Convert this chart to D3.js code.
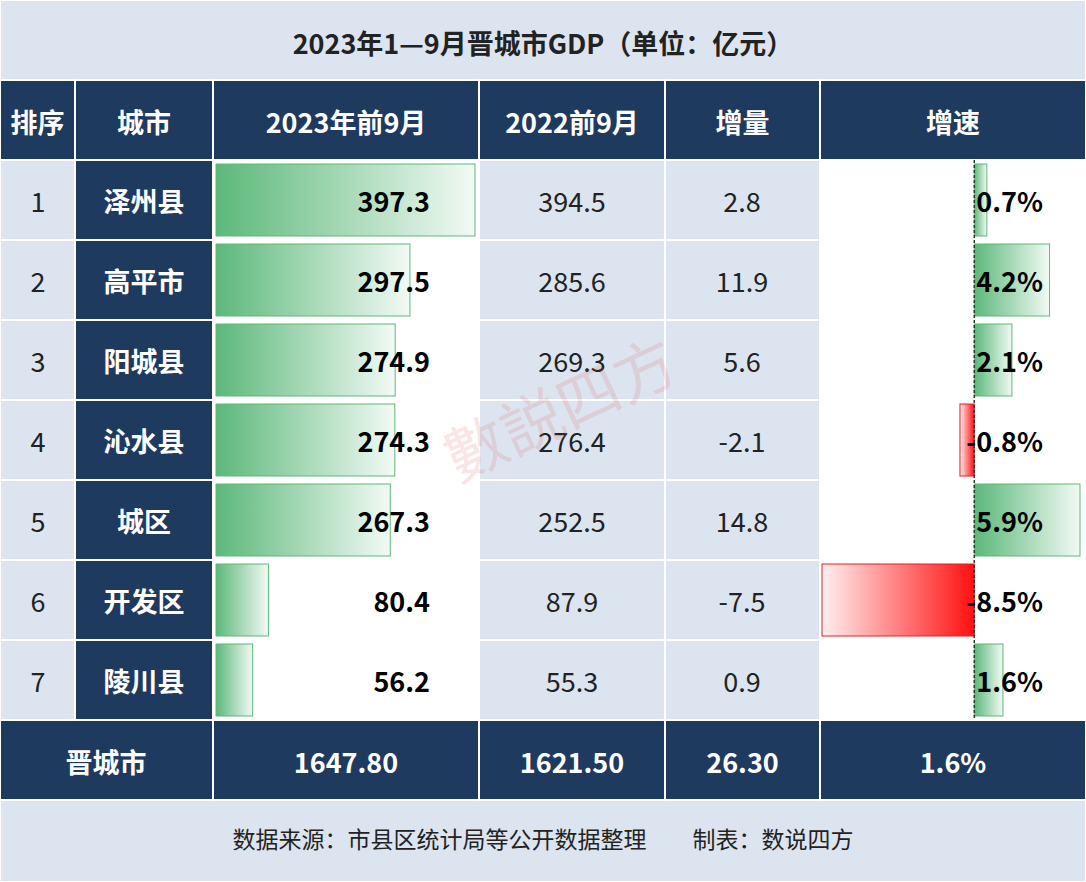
<!DOCTYPE html>
<html><head><meta charset="utf-8">
<script src="https://cdn.jsdelivr.net/npm/d3@7.9.0/dist/d3.min.js"></script>
<style>body{margin:0;background:#fff}svg{display:block}</style>
</head><body>
<svg id="chart" width="1086" height="882"></svg>
<script>
// Data
const title = '2023年1—9月晋城市GDP（单位：亿元）';
const headers = ['排序', '城市', '2023年前9月', '2022前9月', '增量', '增速'];
const ranks = [1, 2, 3, 4, 5, 6, 7];
const cities = ['泽州县', '高平市', '阳城县', '沁水县', '城区', '开发区', '陵川县'];
const gdp2023 = [397.3, 297.5, 274.9, 274.3, 267.3, 80.4, 56.2];
const gdp2022 = [394.5, 285.6, 269.3, 276.4, 252.5, 87.9, 55.3];
const increase = [2.8, 11.9, 5.6, -2.1, 14.8, -7.5, 0.9];
const growth = [0.7, 4.2, 2.1, -0.8, 5.9, -8.5, 1.6];
const total = ['晋城市', '1647.80', '1621.50', '26.30', '1.6%'];
const source = '数据来源：市县区统计局等公开数据整理　　制表：数说四方';

const navy = '#1f3a5f', light = '#dce5ef', font = '"Noto Sans CJK SC","Noto Sans",sans-serif';
const svg = d3.select('#chart').style('font-family', font);
const colX = [0, 75, 213, 479, 665, 820, 1086];
const rowY = d3.scaleBand().domain(d3.range(7)).range([160, 720]);

const defs = svg.append('defs');
function grad(id, stops) {
  const g = defs.append('linearGradient').attr('id', id);
  stops.forEach(([o, c]) => g.append('stop').attr('offset', o).attr('stop-color', c));
}
grad('gGreen', [['0%', '#5cb87a'], ['100%', '#f2faf4']]);
grad('gRed', [['0%', '#fff0f0'], ['100%', '#ff1010']]);

function cell(x0, x1, y0, y1, fill) {
  svg.append('rect').attr('x', x0).attr('y', y0).attr('width', x1 - x0).attr('height', y1 - y0)
    .attr('fill', fill).attr('stroke', '#fff').attr('stroke-width', 2);
}
function txt(x, y, s, opt = {}) {
  svg.append('text').attr('x', x).attr('y', y).attr('text-anchor', opt.anchor || 'middle')
    .attr('dominant-baseline', 'central').attr('font-size', opt.size || 27)
    .attr('font-weight', opt.bold ? 'bold' : 'normal').attr('fill', opt.color || '#222').text(s);
}

// Title & header
cell(0, 1086, 0, 80, light);
txt(543, 42, title, {bold: true, size: 27});
headers.forEach((h, i) => {
  cell(colX[i], colX[i + 1], 80, 160, navy);
  txt((colX[i] + colX[i + 1]) / 2, 121, h, {bold: true, color: '#fff'});
});

// Scales
const xGdp = d3.scaleLinear().domain([0, 397.3]).range([216, 475]);
const xGr = d3.scaleLinear().domain([-8.5, 5.9]).range([822, 1080]);

d3.range(7).forEach(i => {
  const y0 = rowY(i), y1 = y0 + rowY.bandwidth(), cy = (y0 + y1) / 2;
  cell(colX[0], colX[1], y0, y1, light);
  cell(colX[1], colX[2], y0, y1, navy);
  cell(colX[2], colX[3], y0, y1, '#fff');
  cell(colX[3], colX[4], y0, y1, light);
  cell(colX[4], colX[5], y0, y1, light);
  cell(colX[5], colX[6], y0, y1, '#fff');
  svg.append('rect').attr('x', xGdp(0)).attr('y', y0 + 4).attr('width', xGdp(gdp2023[i]) - xGdp(0))
    .attr('height', rowY.bandwidth() - 8).attr('fill', 'url(#gGreen)').attr('stroke', '#5cb87a');
  const g = growth[i];
  svg.append('rect').attr('x', Math.min(xGr(0), xGr(g))).attr('y', y0 + 4)
    .attr('width', Math.abs(xGr(g) - xGr(0))).attr('height', rowY.bandwidth() - 8)
    .attr('fill', g < 0 ? 'url(#gRed)' : 'url(#gGreen)').attr('stroke', g < 0 ? '#e02020' : '#5cb87a');
  txt(38, cy, ranks[i]);
  txt(144, cy, cities[i], {bold: true, color: '#fff'});
  txt(430, cy, gdp2023[i].toFixed(1), {bold: true, anchor: 'end', color: '#000'});
  txt(572, cy, gdp2022[i].toFixed(1));
  txt(742, cy, increase[i].toFixed(1));
  txt(1043, cy, g.toFixed(1) + '%', {bold: true, anchor: 'end', color: '#000'});
});
svg.append('line').attr('x1', xGr(0)).attr('x2', xGr(0)).attr('y1', 160).attr('y2', 720)
  .attr('stroke', '#333').attr('stroke-width', 1.5).attr('stroke-dasharray', '3,2');

// Total row
cell(0, 213, 720, 800, navy);
txt(106, 761, total[0], {bold: true, color: '#fff'});
[1, 2, 3, 4].forEach(k => {
  const i = k + 1;
  cell(colX[i], colX[i + 1], 720, 800, navy);
  txt((colX[i] + colX[i + 1]) / 2, 761, total[k], {bold: true, color: '#fff'});
});

// Footer
cell(0, 1086, 800, 882, light);
txt(543, 838, source, {size: 23});

// Watermark
svg.append('text').attr('transform', 'translate(570,430) rotate(-25)').attr('text-anchor', 'middle')
  .attr('font-size', 62).attr('fill', '#e05050').attr('opacity', 0.15).text('數説四方');
</script>
</body></html>
